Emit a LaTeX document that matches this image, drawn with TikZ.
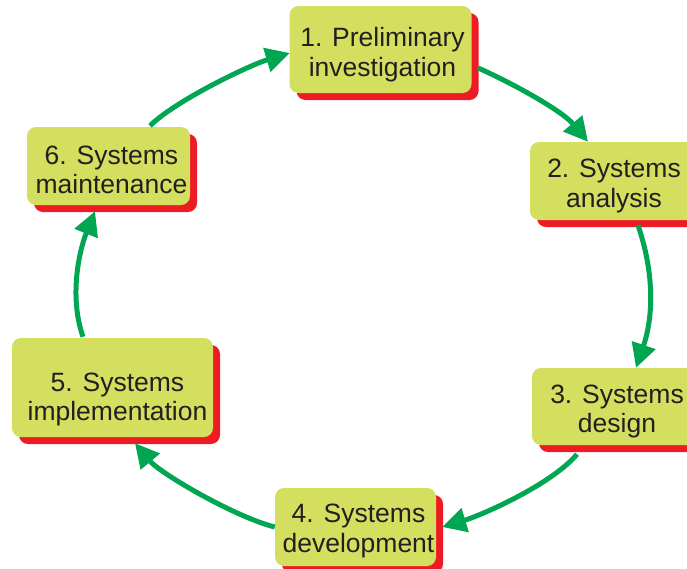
\documentclass[tikz,border=0pt]{standalone}
\usepackage{fontspec}
\setmainfont{Liberation Sans}
\usetikzlibrary{arrows.meta,shadows}

\definecolor{boxfill}{RGB}{213,223,95}
\definecolor{shadowred}{RGB}{237,28,36}
\definecolor{flowgreen}{RGB}{0,166,81}
\definecolor{labeltext}{RGB}{35,31,32}

\tikzset{
  stage/.style={draw=none, fill=boxfill, rounded corners=9pt, inner sep=0pt,
    general shadow={fill=shadowred, shadow xshift=7pt, shadow yshift=-7pt}},
  stagetext/.style={align=center, inner sep=0pt, text=labeltext,
    font=\fontsize{26.5}{29.5}\selectfont},
  flow/.style={draw=flowgreen, line width=5pt,
    -{Triangle[length=24pt,width=24pt]}}
}

\begin{document}
\begin{tikzpicture}[x=1pt,y=-1pt]
  \useasboundingbox (0,0) rectangle (687,568);

  % the six stage boxes
  \node[stage, minimum width=182pt, minimum height=87pt] (b1) at (380.5,49.5) {};
  \node[stage, minimum width=168pt, minimum height=78pt] (b2) at (614,181) {};
  \node[stage, minimum width=168pt, minimum height=77pt] (b3) at (616,406.5) {};
  \node[stage, minimum width=161pt, minimum height=78pt] (b4) at (355.5,527) {};
  \node[stage, minimum width=201pt, minimum height=99pt] (b5) at (112.5,387.5) {};
  \node[stage, minimum width=163pt, minimum height=78pt] (b6) at (108.5,166) {};

  % their captions
  \node[stagetext] (t1) at ([shift={(2,5)}]b1.center) {1. Preliminary\\investigation};
  \node[stagetext] (t2) at ([shift={(0,5)}]b2.center) {2. Systems\\analysis};
  \node[stagetext] (t3) at ([shift={(1,5)}]b3.center) {3. Systems\\design};
  \node[stagetext] (t4) at ([shift={(3,4)}]b4.center) {4. Systems\\development};
  \node[stagetext] (t5) at ([shift={(5,12)}]b5.center) {5. Systems\\implementation};
  \node[stagetext] (t6) at ([shift={(3,4)}]b6.center) {6. Systems\\maintenance};

  % curved arrows running clockwise round the cycle
  \draw[flow] ([shift={(6.5,18.5)}]b1.east) .. controls +(40,18) and +(-25,-30) .. ([shift={(-26,0)}]b2.north);
  \draw[flow] ([shift={(24,5)}]b2.south) .. controls +(17,50) and +(17,-50) .. ([shift={(20,0)}]b3.north);
  \draw[flow] ([shift={(-39,9)}]b3.south) .. controls +(-25,30) and +(40,-12) .. ([shift={(6,0)}]b4.east);
  \draw[flow] (b4.west) .. controls +(-40,-10) and +(25,30) .. ([shift={(22.5,6)}]b5.south);
  \draw[flow] ([shift={(-29.5,-1)}]b5.north) .. controls +(-14,-40) and +(-16,40) .. ([shift={(-13.5,6)}]b6.south);
  \draw[flow] ([shift={(41.5,-1)}]b6.north) .. controls +(25,-25) and +(-40,12) .. ([shift={(0.5,3.5)}]b1.west);
\end{tikzpicture}
\end{document}
